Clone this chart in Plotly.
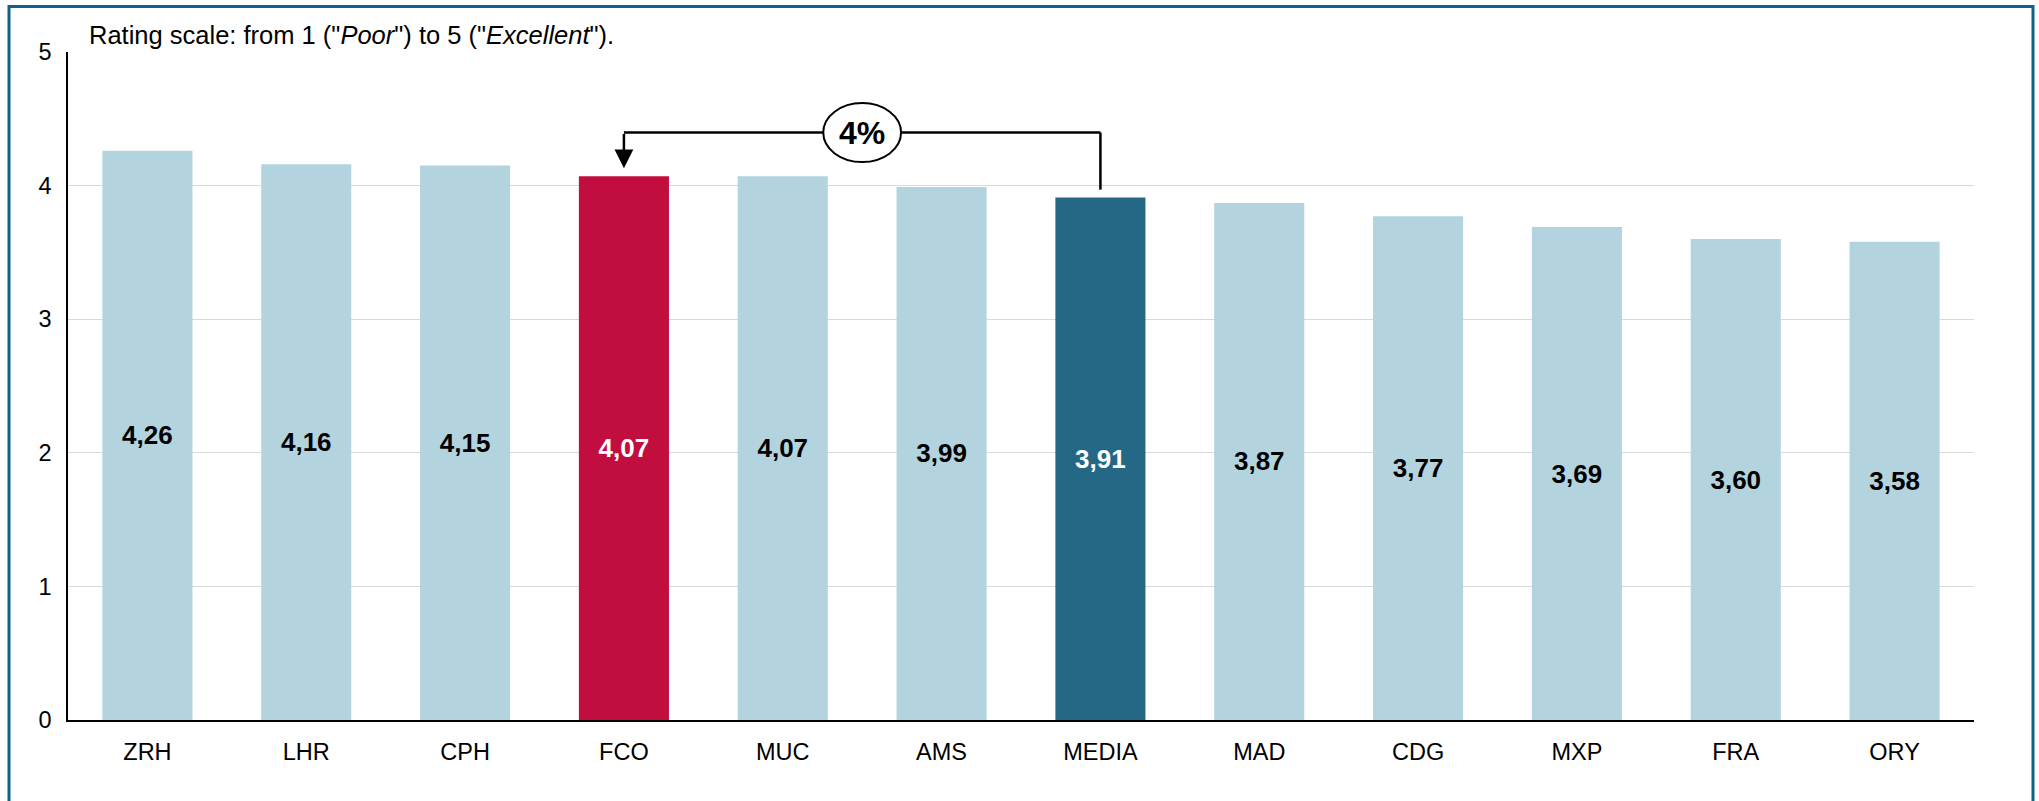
import plotly.graph_objects as go

categories = ["ZRH", "LHR", "CPH", "FCO", "MUC", "AMS", "MEDIA", "MAD", "CDG", "MXP", "FRA", "ORY"]
values = [4.26, 4.16, 4.15, 4.07, 4.07, 3.99, 3.91, 3.87, 3.77, 3.69, 3.60, 3.58]
highlight = {"FCO": "#C20E3E", "MEDIA": "#256886"}
base_color = "#B3D3DE"
y_ticks = [0, 1, 2, 3, 4, 5]
title_text = 'Rating scale: from 1 ("<i>Poor</i>") to 5 ("<i>Excellent</i>").'

W, H = 2039, 801
ml, mr, mt, mb = 68, 65, 52, 81
pw, ph = W - ml - mr, H - mt - mb

colors = [highlight.get(c, base_color) for c in categories]
txt_colors = ["white" if c in highlight else "black" for c in categories]
labels = [f"{v:.2f}".replace(".", ",") for v in values]

fig = go.Figure()
fig.add_trace(go.Bar(
    x=categories, y=values, marker_color=colors, marker_line_width=0,
    text=labels, textposition="inside", insidetextanchor="middle", textangle=0,
    textfont=dict(family="Liberation Sans, Arial", size=26, color=txt_colors, weight="bold"),
    constraintext="none", hoverinfo="skip",
))

i_fco = categories.index("FCO")
i_med = categories.index("MEDIA")
pct = round((values[i_fco] - values[i_med]) / values[i_med] * 100)
bracket_y = 4.397
mid_x = (i_fco + i_med) / 2

shapes = [
    dict(type="line", xref="x", yref="y", x0=i_med, x1=i_med, y0=3.97, y1=bracket_y,
         line=dict(color="black", width=2.5)),
    dict(type="line", xref="x", yref="y", x0=i_med, x1=i_fco, y0=bracket_y, y1=bracket_y,
         line=dict(color="black", width=2.5)),
    dict(type="circle", xref="x", yref="y", x0=mid_x - 0.245, x1=mid_x + 0.245,
         y0=bracket_y - 0.221, y1=bracket_y + 0.221,
         fillcolor="white", line=dict(color="black", width=2)),
    # outer frame
    dict(type="rect", xref="paper", yref="paper",
         x0=(9 - ml) / pw, x1=(2033 - ml) / pw,
         y0=(H - mb - 830) / ph, y1=(H - mb - 6.5) / ph,
         line=dict(color="#0E6485", width=3), fillcolor="rgba(0,0,0,0)"),
]

annotations = [
    dict(x=i_fco, y=4.13, ax=i_fco, ay=bracket_y, xref="x", yref="y", axref="x", ayref="y",
         text="", showarrow=True, arrowhead=2, arrowsize=1.5, arrowwidth=2.5, arrowcolor="black"),
    dict(x=mid_x, y=bracket_y, xref="x", yref="y", text=f"<b>{pct}%</b>", showarrow=False,
         font=dict(family="Liberation Sans, Arial", size=32, color="black")),
    dict(x=(87 - ml) / pw, y=(H - mb - 35) / ph, xref="paper", yref="paper",
         xanchor="left", yanchor="middle", text=title_text, showarrow=False,
         font=dict(family="Liberation Sans, Arial", size=25.5, color="black")),
]

fig.update_layout(
    width=W, height=H, margin=dict(l=ml, r=mr, t=mt, b=mb),
    paper_bgcolor="white", plot_bgcolor="white",
    bargap=0.433, showlegend=False,
    shapes=shapes, annotations=annotations,
    font=dict(family="Liberation Sans, Arial", color="black"),
)
fig.update_xaxes(showline=True, linecolor="black", linewidth=2, showgrid=False,
                 tickfont=dict(size=23.5, color="black"), ticks="", ticklabelstandoff=10)
fig.update_yaxes(range=[0, 5], tickvals=y_ticks, showline=True, linecolor="black", linewidth=1.5,
                 showgrid=True, gridcolor="#D9D9D9", gridwidth=1.3, zeroline=False,
                 tickfont=dict(size=23.5, color="black"), ticks="", ticklabelstandoff=10)

fig.write_html("out.html")
